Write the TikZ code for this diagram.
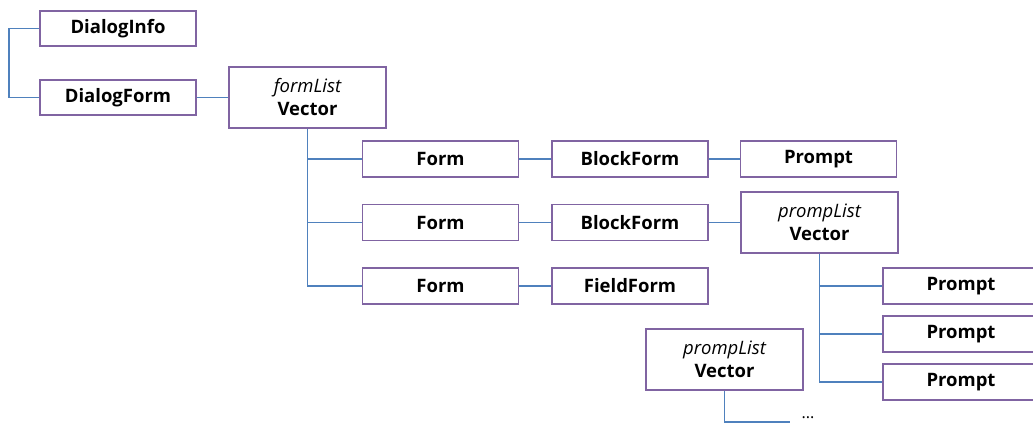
\documentclass[tikz,border=0pt]{standalone}
\usepackage{fontspec}
\setmainfont{Open Sans}
\begin{document}
\begin{tikzpicture}[x=1pt,y=-1pt,
  box/.style={draw=boxpurple,line width=1.6pt,fill=white,minimum width=156pt,
    minimum height=36pt,inner sep=0pt,align=center,font=\fontsize{18.5}{21}\selectfont\bfseries},
  vecbox/.style={box,minimum width=157pt,minimum height=61pt,font=\fontsize{18.5}{23}\selectfont},
  link/.style={draw=linkblue,line width=1.6pt}]
\definecolor{boxpurple}{HTML}{8064A2}
\definecolor{linkblue}{HTML}{4F81BD}
\clip (0,0) rectangle (1033,426);
\useasboundingbox (0,0) rectangle (1033,426);

% top-level dialog entries
\node[box,minimum height=35pt] (info)  at (118,28.5) {DialogInfo};
\node[box,minimum height=35pt] (dform) at (118,97.5) {DialogForm};
\node[vecbox] (fvec) at (307.5,97.5) {{\itshape\mdseries formList}\\\textbf{Vector}};

% forms
\node[box] (form1) at (440.5,159) {Form};
\node[box] (form2) at (440.5,222.5) {Form};
\node[box] (form3) at (440.5,286) {Form};
\node[box] (bf1) at (630,159) {BlockForm};
\node[box] (bf2) at (630,222.5) {BlockForm};
\node[box] (ff)  at (630,286) {FieldForm};
\node[box] (p0)  at (818.5,159) {Prompt};

% prompt list
\node[vecbox] (pvec) at (819.5,222.5) {{\itshape\mdseries prompList}\\\textbf{Vector}};
\node[box] (p1) at (961,286) {Prompt};
\node[box] (p2) at (961,334) {Prompt};
\node[box] (p3) at (961,382) {Prompt};

% second prompt list
\node[vecbox] (pvec2) at (724.5,359.5) {{\itshape\mdseries prompList}\\\textbf{Vector}};
\node[font=\fontsize{16}{18}\selectfont,inner sep=0pt] (dots) at (808,418) {...};
\coordinate (dend) at (790,422);

% connectors
\draw[link] (info.west) -- ++(-30,0) |- (dform.west);
\draw[link] (dform.east) -- (fvec.west);
\draw[link] (fvec.south) |- (form1.west);
\draw[link] (fvec.south) |- (form2.west);
\draw[link] (fvec.south) |- (form3.west);
\draw[link] (form1.east) -- (bf1.west);
\draw[link] (form2.east) -- (bf2.west);
\draw[link] (form3.east) -- (ff.west);
\draw[link] (bf1.east) -- (p0.west);
\draw[link] (bf2.east) -- (pvec.west);
\draw[link] (pvec.south) |- (p1.west);
\draw[link] (pvec.south) |- (p2.west);
\draw[link] (pvec.south) |- (p3.west);
\draw[link] (pvec2.south) |- (dend);
\end{tikzpicture}
\end{document}
